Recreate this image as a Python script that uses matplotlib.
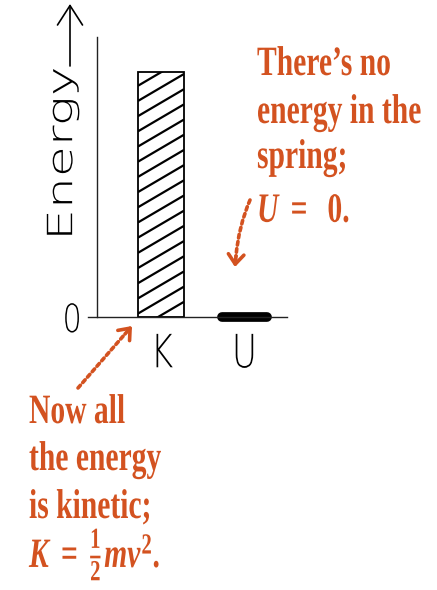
import matplotlib
matplotlib.use("Agg")
import matplotlib.pyplot as plt
from matplotlib import patheffects
from matplotlib.collections import LineCollection
from matplotlib.transforms import Affine2D

# bar values: all kinetic, none stored in the spring
categories = ["K", "U"]
energy = [1.0, 0.0]
y_ticks = [0]
y_tick_labels = ["0"]

top_note = ["There\u2019s no", "energy in the", "spring;", r"$U\ =\ \ 0.$"]
bottom_note = ["Now all", "the energy", "is kinetic;", r"$K\ =\ \frac{1}{2}mv^2.$"]

ORANGE = "#d35220"
W, H = 437, 590


class Squeeze(patheffects.AbstractPathEffect):
    """Scale drawn text about its baseline origin or its centre."""

    def __init__(self, sx=1.0, sy=1.0, anchor="origin"):
        super().__init__()
        self.sx, self.sy, self.anchor = sx, sy, anchor

    def draw_path(self, renderer, gc, tpath, affine, rgbFace=None):
        if self.anchor == "origin":
            x0, y0 = affine.transform((0, 0))
        else:
            ext = tpath.get_extents(affine)
            x0, y0 = (ext.x0 + ext.x1) / 2, (ext.y0 + ext.y1) / 2
        sq = Affine2D().translate(-x0, -y0).scale(self.sx, self.sy).translate(x0, y0)
        renderer.draw_path(gc, tpath, affine + sq, rgbFace)


plt.rcParams.update({
    "mathtext.fontset": "custom",
    "mathtext.rm": "Liberation Serif:bold",
    "mathtext.it": "Liberation Serif:italic:bold",
    "mathtext.bf": "Liberation Serif:bold",
})

fig = plt.figure(figsize=(W / 100, H / 100), dpi=100)
ax = fig.add_axes([88 / W, 1 - 317 / H, 199 / W, 280 / H])

x = range(len(categories))
bars = ax.bar(x, energy, width=0.55, color="white", edgecolor="black",
              linewidth=1.3)
for bar, value in zip(bars, energy):
    if value == 0:
        # an empty bar is just a heavy stroke on the axis
        bar.set_facecolor("black")
        bar.set_linewidth(7)
        bar.set_capstyle("round")
        bar.set_joinstyle("round")
        bar.set_clip_on(False)
        continue
    # shallow diagonal shading, clipped to the bar
    x0, x1 = bar.get_x(), bar.get_x() + bar.get_width()
    rise, step = 0.11, 0.062
    segs = []
    y = -rise
    while y < value:
        segs.append([(x0, y), (x1, y + rise)])
        y += step
    shade = LineCollection(segs, colors="black", linewidths=1.6)
    ax.add_collection(shade)
    shade.set_clip_path(bar)

ax.set_xlim(-0.874, 1.509)
ax.set_ylim(0, 1.143)
for side in ["top", "right"]:
    ax.spines[side].set_visible(False)
ax.spines["left"].set_position(("data", -0.766))
for side in ["left", "bottom"]:
    ax.spines[side].set_linewidth(1.0)
    ax.spines[side].set_color("#222222")
ax.patch.set_alpha(0)

hand = dict(family="DejaVu Sans", weight="light")
ax.set_xticks(list(x), labels=categories, fontsize=33, **hand)
ax.set_yticks(y_ticks, labels=y_tick_labels, fontsize=28, **hand)
ax.tick_params(axis="x", length=0, pad=11)
ax.tick_params(axis="y", length=0, pad=9)
for lbl in ax.get_xticklabels():
    lbl.set_path_effects([Squeeze(0.75, 1.0, "center")])
for lbl in ax.get_yticklabels():
    lbl.set_path_effects([Squeeze(0.78, 1.0, "center")])

ax.set_ylabel("Energy", fontsize=25, va="center", **hand)
ax.yaxis.set_label_coords(-0.13, 0.586)
ax.yaxis.label.set_path_effects([Squeeze(1.0, 1.45, "center")])
ax.annotate("", xy=(70, H - 4), xytext=(70, H - 66), xycoords="figure pixels",
            arrowprops=dict(arrowstyle="->,head_length=0.7,head_width=0.45",
                            lw=1.2, color="black", mutation_scale=20,
                            shrinkA=0, shrinkB=0))

# orange notes: narrow bold serif, stretched tall from the baseline
note_font = dict(family="Liberation Serif", weight="bold", fontsize=21.3,
                 color=ORANGE, va="baseline", ha="left")
tall = [Squeeze(1.0, 1.41)]
for line, base in zip(top_note, [75, 123, 168, 222]):
    fig.text(257 / W, 1 - base / H, line, path_effects=tall, **note_font)
for line, base in zip(bottom_note, [423, 470, 518, 567]):
    fig.text(29 / W, 1 - base / H, line, path_effects=tall, **note_font)

dots = dict(arrowstyle="-", linestyle=(0, (1, 1)), lw=2.6, color=ORANGE,
            shrinkA=0, shrinkB=0)
head = dict(arrowstyle="->,head_length=0.5,head_width=0.4", lw=2.6,
            color=ORANGE, mutation_scale=14, shrinkA=0, shrinkB=0)

ax.annotate("", xy=(125, H - 334), xytext=(78, H - 388),
            xycoords="figure pixels", arrowprops=dots)
ax.annotate("", xy=(132, H - 326), xytext=(125, H - 334),
            xycoords="figure pixels", arrowprops=head)

ax.annotate("", xy=(236, H - 256), xytext=(250, H - 200),
            xycoords="figure pixels",
            arrowprops=dict(dots, connectionstyle="arc3,rad=0.08"))
ax.annotate("", xy=(235, H - 267), xytext=(236, H - 256),
            xycoords="figure pixels", arrowprops=head)

fig.savefig("out.png", dpi=100, facecolor="white")
